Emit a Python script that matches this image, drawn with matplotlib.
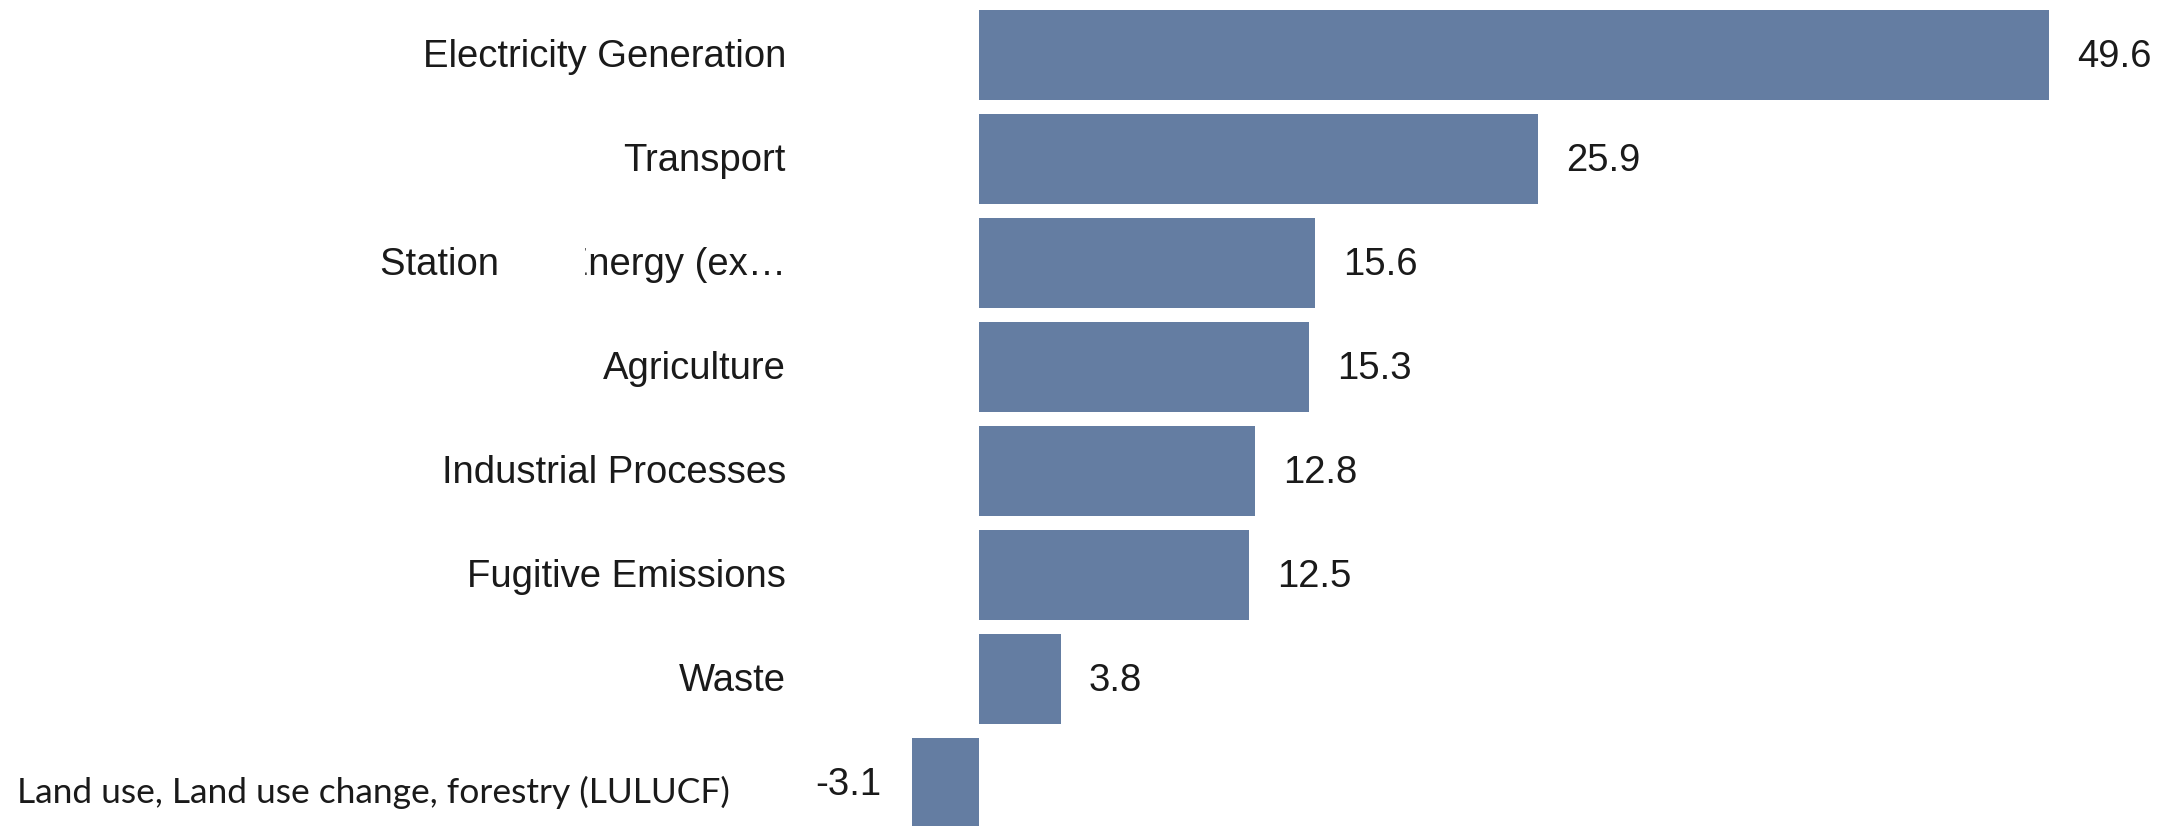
import matplotlib.pyplot as plt
from matplotlib.patches import Rectangle

# data
categories = ["Electricity Generation", "Transport", "Stationary Energy (ex\u2026",
              "Agriculture", "Industrial Processes", "Fugitive Emissions",
              "Waste", "Land use, Land use change, forestry (LULUCF)"]
values = [49.6, 25.9, 15.6, 15.3, 12.8, 12.5, 3.8, -3.1]

W, H = 2177, 826
fig = plt.figure(figsize=(W / 100, H / 100), dpi=100)

# axes placed in pixels
ax_left = 900
ax = fig.add_axes([ax_left / W, 0, (W - ax_left) / W, 1])
ax.axis("off")

px_per_unit = 21.57
zero_px = 979
ax.set_xlim(-(zero_px - ax_left) / px_per_unit, (W - zero_px) / px_per_unit)
ax.set_ylim((H - 55) / 104, -55 / 104)

bar_color = "#647da2"
pos = list(range(len(values)))
ax.barh(pos, values, height=0.865, color=bar_color)

txt_color = "#1a1a1a"
for i, v in enumerate(values):
    if v >= 0:
        ax.text(v + 28 / px_per_unit, i + 0.02, f"{v}", ha="left", va="center",
                fontsize=27.5, color=txt_color, family="Liberation Sans")
    else:
        ax.text(v - 31 / px_per_unit, i + 0.02, f"{v}", ha="right", va="center",
                fontsize=27.5, color=txt_color, family="Liberation Sans")

# category labels
for i, c in enumerate(categories[:-1]):
    y = 1 - (57 + 104 * i) / H
    fig.text(786 / W, y, c, ha="right", va="center", fontsize=27.5,
             color=txt_color, family="Liberation Sans")

# last label is in a different font, left aligned
fig.text(17 / W, 1 - 792 / H, categories[-1], ha="left", va="center",
         fontsize=25.5, color=txt_color, family="Lato")

# white patch hiding part of the "Stationary Energy" label
fig.patches.append(Rectangle((498 / W, 1 - 295 / H), 86 / W, 70 / H,
                             transform=fig.transFigure, color="white", zorder=10))

fig.savefig("out.png", dpi=100, facecolor="white")
